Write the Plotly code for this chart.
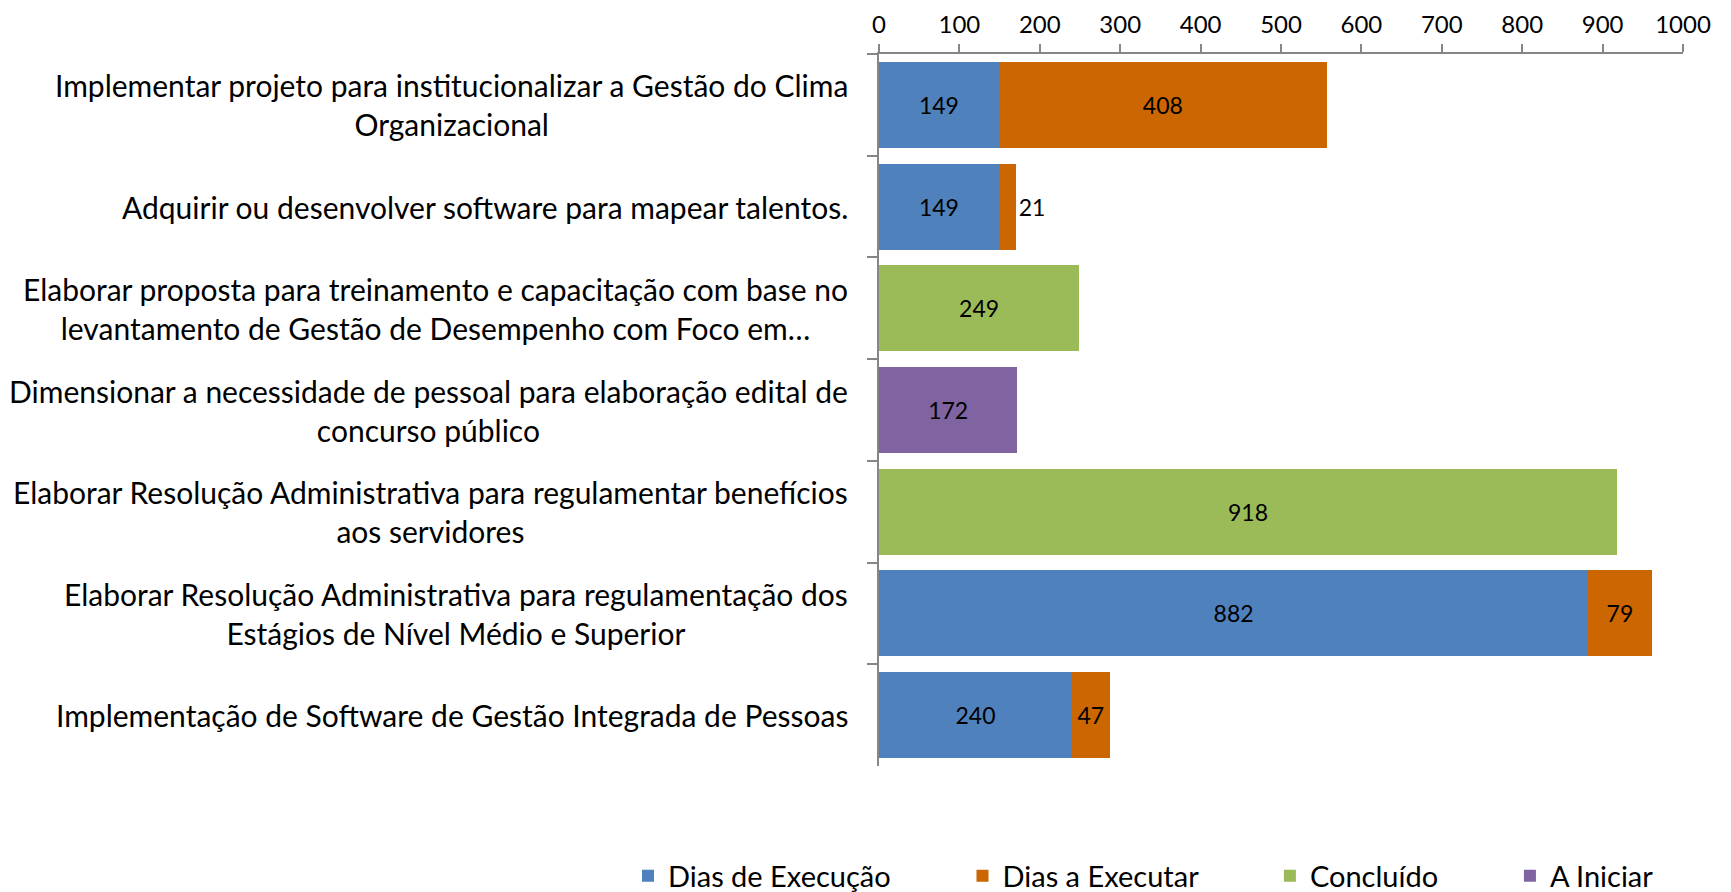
import plotly.graph_objects as go

categories = [
    "Implementar projeto para institucionalizar a Gestão do Clima<br>Organizacional",
    "Adquirir ou desenvolver software para mapear talentos.",
    "Elaborar proposta para treinamento e capacitação com base no<br>levantamento de Gestão de Desempenho com Foco em…",
    "Dimensionar a necessidade de pessoal para elaboração edital de<br>concurso público",
    "Elaborar Resolução Administrativa para regulamentar benefícios<br>aos servidores",
    "Elaborar Resolução Administrativa para regulamentação dos<br>Estágios de Nível Médio e Superior",
    "Implementação de Software de Gestão Integrada de Pessoas",
]
cat_ids = ["c%d" % i for i in range(len(categories))]

dias_execucao = [149, 149, None, None, None, 882, 240]
dias_executar = [408, 21, None, None, None, 79, 47]
concluido = [None, None, 249, None, 918, None, None]
a_iniciar = [None, None, None, 172, None, None, None]

series = [
    ("Dias de Execução", dias_execucao, "#4F81BD"),
    ("Dias a Executar", dias_executar, "#CC6600"),
    ("Concluído", concluido, "#9BBB59"),
    ("A Iniciar", a_iniciar, "#8064A2"),
]

FONT = "Lato"
PAD = "\u00a0" * 9
L, R, T, B = 871, 56, 46, 134
PW = 1731 - L - R
PH = 892 - T - B

fig = go.Figure()
for i, (name, vals, color) in enumerate(series):
    positions = []
    for v in vals:
        if v is not None and v < 30:
            positions.append("outside")
        else:
            positions.append("inside")
    fig.add_trace(go.Bar(
        name=name + (PAD if i < len(series) - 1 else ""), y=cat_ids, x=vals, orientation="h",
        marker=dict(color=color, line=dict(width=0)),
        text=[str(v) if v is not None else "" for v in vals],
        textposition=positions, insidetextanchor="middle",
        textfont=dict(color="black", size=23, family=FONT),
        outsidetextfont=dict(color="black", size=23, family=FONT),
        constraintext="none", cliponaxis=False,
    ))

for cid, label in zip(cat_ids, categories):
    fig.add_annotation(
        x=-29 / PW, xref="paper", y=cid, yref="y", text=label,
        showarrow=False, xanchor="right", yanchor="middle", align="center",
        font=dict(family=FONT, size=30, color="black"),
    )

fig.update_layout(
    width=1731, height=892,
    barmode="stack", bargap=0.155,
    plot_bgcolor="white", paper_bgcolor="white",
    margin=dict(l=L, r=R, t=T, b=B, autoexpand=False),
    font=dict(family=FONT, size=23, color="black"),
    legend=dict(orientation="h", x=(620 - L) / PW, xref="paper", xanchor="left",
                y=-110 / PH, yref="paper", yanchor="middle",
                font=dict(family=FONT, size=29, color="black"),
                itemwidth=30, traceorder="normal"),
    xaxis=dict(side="top", range=[0, 1000], dtick=100, showgrid=False,
               showline=True, linecolor="#868686", linewidth=1.5,
               ticks="outside", ticklen=8, tickcolor="#868686", tickwidth=1.5,
               ticklabelstandoff=2,
               tickfont=dict(family=FONT, size=24, color="black"), zeroline=False),
    yaxis=dict(autorange="reversed", showticklabels=False, showgrid=False,
               showline=True, linecolor="#868686", linewidth=1.5,
               ticks="outside", ticklen=10, tickcolor="#868686", tickwidth=1.5,
               tickson="boundaries"),
)

fig.write_html("out.html")
